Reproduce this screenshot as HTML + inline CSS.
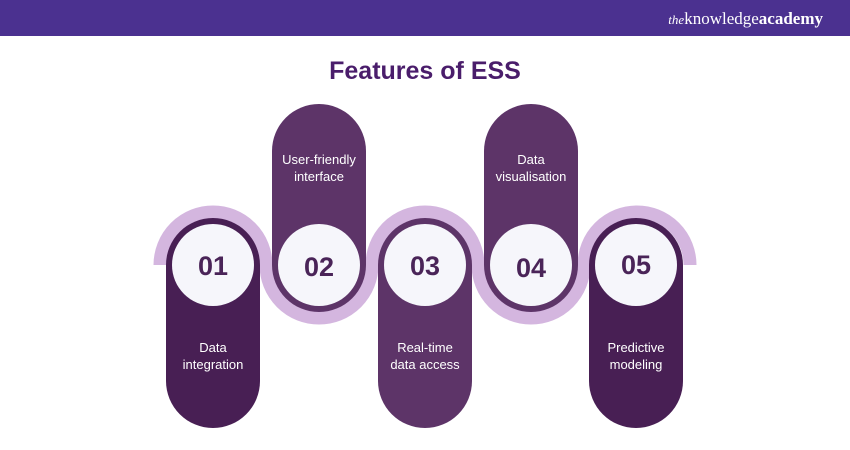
<!DOCTYPE html>
<html><head><meta charset="utf-8"><style>
body{margin:0;width:850px;height:450px;overflow:hidden;background:#fff;font-family:"Liberation Sans",sans-serif}
</style></head><body>
<svg width="850" height="450" xmlns="http://www.w3.org/2000/svg" style="display:block">
<rect x="0" y="0" width="850" height="36" fill="#4b3190"/>
<text x="823" y="24" text-anchor="end" fill="#fff" font-family="Liberation Serif,serif" font-size="17"><tspan font-style="italic" font-size="13">the</tspan>knowledge<tspan font-weight="bold">academy</tspan></text>
<text x="425" y="79" text-anchor="middle" fill="#4a1d6b" font-size="25" font-weight="bold">Features of ESS</text>
<!-- wave -->
<path d="M160 265 A53 53 0 0 1 266 265 A53 53 0 0 0 372 265 A53 53 0 0 1 478 265 A53 53 0 0 0 584 265 A53 53 0 0 1 690 265" fill="none" stroke="#d4b6df" stroke-width="13"/>
<!-- pills -->
<rect x="166" y="218" width="94" height="210" rx="47" fill="#481f54"/>
<rect x="272" y="104" width="94" height="208" rx="47" fill="#5d3468"/>
<rect x="378" y="218" width="94" height="210" rx="47" fill="#5d3468"/>
<rect x="484" y="104" width="94" height="208" rx="47" fill="#5d3468"/>
<rect x="589" y="218" width="94" height="210" rx="47" fill="#481f54"/>
<g fill="#f6f6fb">
<circle cx="213" cy="265" r="41"/><circle cx="319" cy="265" r="41"/><circle cx="425" cy="265" r="41"/><circle cx="531" cy="265" r="41"/><circle cx="636" cy="265" r="41"/>
</g>
<g fill="#4a2458" font-size="27" font-weight="bold" text-anchor="middle">
<text x="213" y="275">01</text><text x="319" y="276">02</text><text x="425" y="275">03</text><text x="531" y="277">04</text><text x="636" y="274">05</text>
</g>
<g fill="#fff" font-size="13" text-anchor="middle">
<text x="213" y="352">Data</text><text x="213" y="369">integration</text>
<text x="319" y="164">User-friendly</text><text x="319" y="181">interface</text>
<text x="425" y="352">Real-time</text><text x="425" y="369">data access</text>
<text x="531" y="164">Data</text><text x="531" y="181">visualisation</text>
<text x="636" y="352">Predictive</text><text x="636" y="369">modeling</text>
</g>
</svg>
</body></html>
